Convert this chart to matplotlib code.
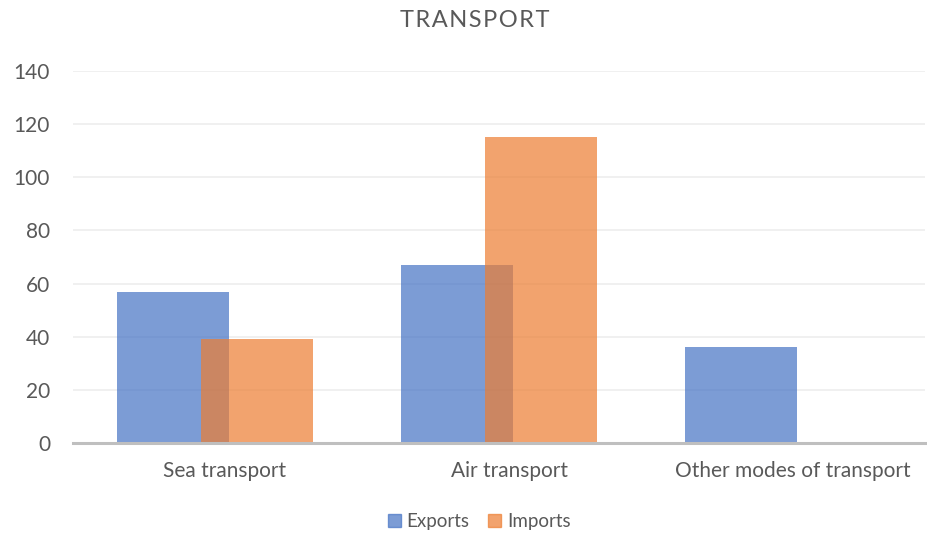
import numpy as np
import matplotlib.pyplot as plt
import matplotlib.transforms as mtransforms
from matplotlib.patches import Patch

categories = ["Sea transport", "Air transport", "Other modes of transport"]
exports = [57, 67, 36]
imports = [39, 115, 0]
y_ticks = [0, 20, 40, 60, 80, 100, 120, 140]

plt.rcParams['font.family'] = ['Lato', 'DejaVu Sans']

blue = '#4472C4'
orange = '#ED7D31'
text_col = '#595959'

fig = plt.figure(figsize=(9.27, 5.34), dpi=100)
ax = fig.add_axes([0.0787, 0.1704, 0.9193, 0.6966])

x = np.arange(len(categories))
w = 0.394
off = 0.148
ax.bar(x - off, exports, width=w, color=blue, alpha=0.7, zorder=2)
ax.bar(x + off, imports, width=w, color=orange, alpha=0.7, zorder=3)

ax.set_xlim(-0.5, len(categories) - 0.5)
ax.set_ylim(0, 140)
ax.set_yticks(y_ticks)
ax.set_xticks(x)
ax.set_xticklabels(categories)
ax.tick_params(axis='both', length=0, colors=text_col, labelsize=15)
ax.tick_params(axis='x', pad=13)
ax.tick_params(axis='y', pad=16.5)

# labels sit a little right of the category centre, like the original
shift = mtransforms.ScaledTranslation(10 / 100, 0, fig.dpi_scale_trans)
for lab in ax.get_xticklabels():
    lab.set_transform(lab.get_transform() + shift)

ax.grid(axis='y', color='#EDEDED', linewidth=1.2, zorder=0)
ax.set_axisbelow(True)
for s in ['top', 'right', 'left']:
    ax.spines[s].set_visible(False)
ax.spines['bottom'].set_color('#BFBFBF')
ax.spines['bottom'].set_linewidth(2.2)
ax.spines['bottom'].set_zorder(4)

fig.text(0.512, 0.962, "\u200a".join("TRANSPORT"), ha='center', va='center',
         fontsize=17, color=text_col)

handles = [Patch(color=blue, alpha=0.7), Patch(color=orange, alpha=0.7)]
fig.legend(handles, ["Exports", "Imports"], loc='center', bbox_to_anchor=(0.517, 0.024),
           ncol=2, frameon=False, fontsize=13.5, handlelength=0.7, handleheight=0.7,
           handletextpad=0.3, columnspacing=1.0, labelcolor=text_col)

fig.savefig('out.png', dpi=100)
